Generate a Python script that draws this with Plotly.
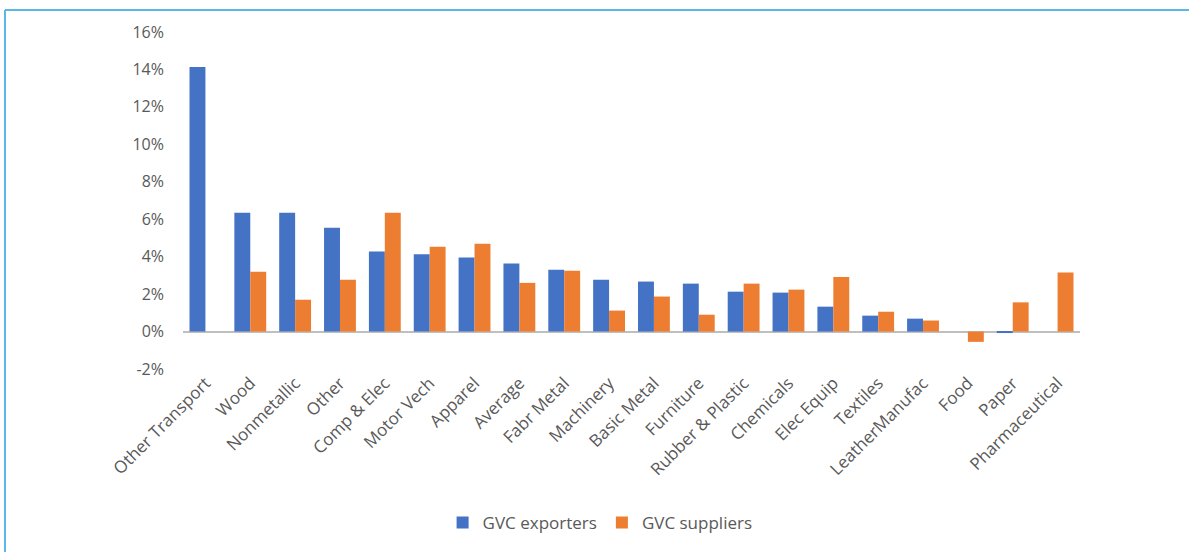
import plotly.graph_objects as go

categories = ["Other Transport", "Wood", "Nonmetallic", "Other", "Comp & Elec", "Motor Vech",
              "Apparel", "Average", "Fabr Metal", "Machinery", "Basic Metal", "Furniture",
              "Rubber & Plastic", "Chemicals", "Elec Equip", "Textiles", "LeatherManufac",
              "Food", "Paper", "Pharmaceutical"]
gvc_exporters = [14.13, 6.35, 6.35, 5.55, 4.27, 4.13, 3.95, 3.63, 3.30, 2.77, 2.67, 2.56,
                 2.13, 2.08, 1.33, 0.85, 0.69, 0.0, -0.08, 0.0]
gvc_suppliers = [0.0, 3.20, 1.70, 2.77, 6.35, 4.53, 4.69, 2.60, 3.25, 1.12, 1.87, 0.90,
                 2.56, 2.24, 2.92, 1.06, 0.59, -0.55, 1.56, 3.16]
y_ticks = [-2, 0, 2, 4, 6, 8, 10, 12, 14, 16]

W, H = 1189, 552
L, R, T, B = 183, 1080, 32, 369

fig = go.Figure()
fig.add_trace(go.Bar(x=categories, y=[v / 100 for v in gvc_exporters], name="GVC exporters",
                     marker=dict(color="#4472C4", line=dict(width=0))))
fig.add_trace(go.Bar(x=categories, y=[v / 100 for v in gvc_suppliers], name="GVC suppliers",
                     marker=dict(color="#ED7D31", line=dict(width=0))))

def px_x(p):
    return (p - L) / (R - L)

def px_y(p):
    return (B - p) / (B - T)

fig.update_layout(
    width=W, height=H,
    margin=dict(l=L, r=W - R, t=T, b=H - B, autoexpand=False),
    paper_bgcolor="white", plot_bgcolor="white",
    barmode="group", bargap=0.29, bargroupgap=0,
    font=dict(family="Open Sans", size=16, color="#595959"),
    legend=dict(orientation="h", x=0.465, xanchor="center", y=px_y(523), yanchor="middle",
                font=dict(size=17, color="#595959"), itemwidth=30, traceorder="normal"),
    xaxis=dict(tickangle=-45, showgrid=False, showline=False, zeroline=False,
               ticks="", tickfont=dict(size=17, color="#595959")),
    yaxis=dict(range=[-0.02, 0.16], tickvals=[v / 100 for v in y_ticks],
               ticktext=[f"{v}%" for v in y_ticks], showgrid=False, showline=False,
               zeroline=True, zerolinecolor="#BFBFBF", zerolinewidth=1.5,
               tickfont=dict(size=16, color="#595959"), ticklabelstandoff=18),
    shapes=[
        dict(type="line", xref="paper", yref="paper", x0=px_x(5), x1=px_x(1195),
             y0=px_y(10), y1=px_y(10), line=dict(color="#5BB8E6", width=2)),
        dict(type="line", xref="paper", yref="paper", x0=px_x(5), x1=px_x(5),
             y0=px_y(10), y1=px_y(560), line=dict(color="#5BB8E6", width=2)),
    ],
)

fig.write_html("out.html", config={"displayModeBar": False},
               post_script="document.body.style.margin='0';document.body.style.overflow='hidden';")
